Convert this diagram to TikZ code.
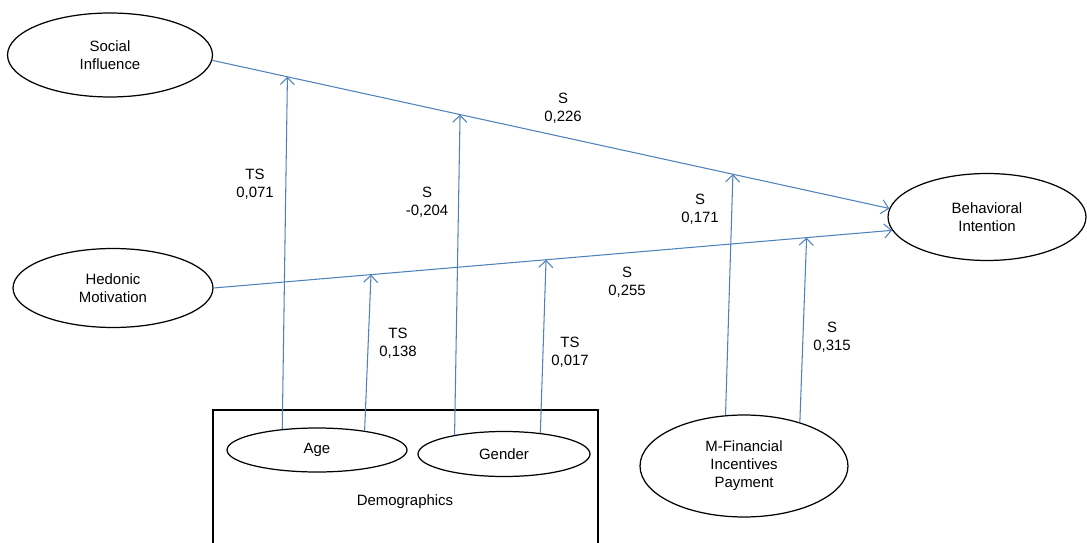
\documentclass[tikz,border=0pt]{standalone}
\usepackage{fontspec}
\setmainfont{Liberation Sans}
\usepackage{tikz}
\usetikzlibrary{arrows.meta, positioning, shapes.geometric}

\definecolor{linkblue}{RGB}{79,129,189}

\begin{document}
\begin{tikzpicture}[x=0.02cm, y=-0.02cm,
  every node/.style={font=\fontsize{8.5}{10.2}\selectfont, align=center},
  construct/.style={draw, ellipse, line width=0.7pt, inner sep=0pt},
  path/.style={draw=linkblue, line width=0.6pt, -{Straight Barb[length=4pt, width=8pt]}},
  coef/.style={inner sep=1pt}]
  \useasboundingbox (0,0) rectangle (1087,543);
  % Constructs
  \node[construct, minimum width=4.1cm, minimum height=1.68cm] (si) at (110,55) {Social\\Influence};
  \node[construct, minimum width=4.0cm, minimum height=1.58cm] (hm) at (113,288) {Hedonic\\Motivation};
  \node[construct, minimum width=3.96cm, minimum height=1.74cm] (bi) at (987,217) {Behavioral\\Intention};
  \node[construct, minimum width=4.16cm, minimum height=2.04cm] (mf) at (744,466) {M-Financial\\Incentives\\ Payment};
  % Demographics box
  \draw[line width=0.7pt] (213,543) -- (213,410) -- (598,410) -- (598,543);
  \node[construct, minimum width=3.6cm, minimum height=0.88cm] (age) at (317,450) {Age};
  \node[construct, minimum width=3.44cm, minimum height=0.9cm] (gender) at (504,454) {Gender};
  \node (demo) at (405,502) {Demographics};
  % Direct effects
  \draw[path] (si.-3) -- coordinate[pos=0.111] (siAge) coordinate[pos=0.366] (siGen)
    coordinate[pos=0.769] (siMf) (bi.175);
  \draw[path] (hm.east) -- coordinate[pos=0.232] (hmAge) coordinate[pos=0.49] (hmGen)
    coordinate[pos=0.874] (hmMf) (bi.188);
  % Moderators
  \foreach \s/\t in {age.149/siAge, age.22/hmAge, gender.159/siGen, gender.30/hmGen,
                     mf.110/siMf, mf.38/hmMf}
    \draw[path] (\s) -- (\t);
  % Labels
  \node[coef] (l1) at (563,108) {S\\0,226};
  \node[coef] (l2) at (627,282) {S\\0,255};
  \node[coef] (l3) at (255,184) {TS\\0,071};
  \node[coef] (l4) at (427,202) {S\\-0,204};
  \node[coef] (l5) at (398,343) {TS\\0,138};
  \node[coef] (l6) at (570,352) {TS\\0,017};
  \node[coef] (l7) at (700,209) {S\\0,171};
  \node[coef] (l8) at (832,337) {S\\0,315};
\end{tikzpicture}
\end{document}
